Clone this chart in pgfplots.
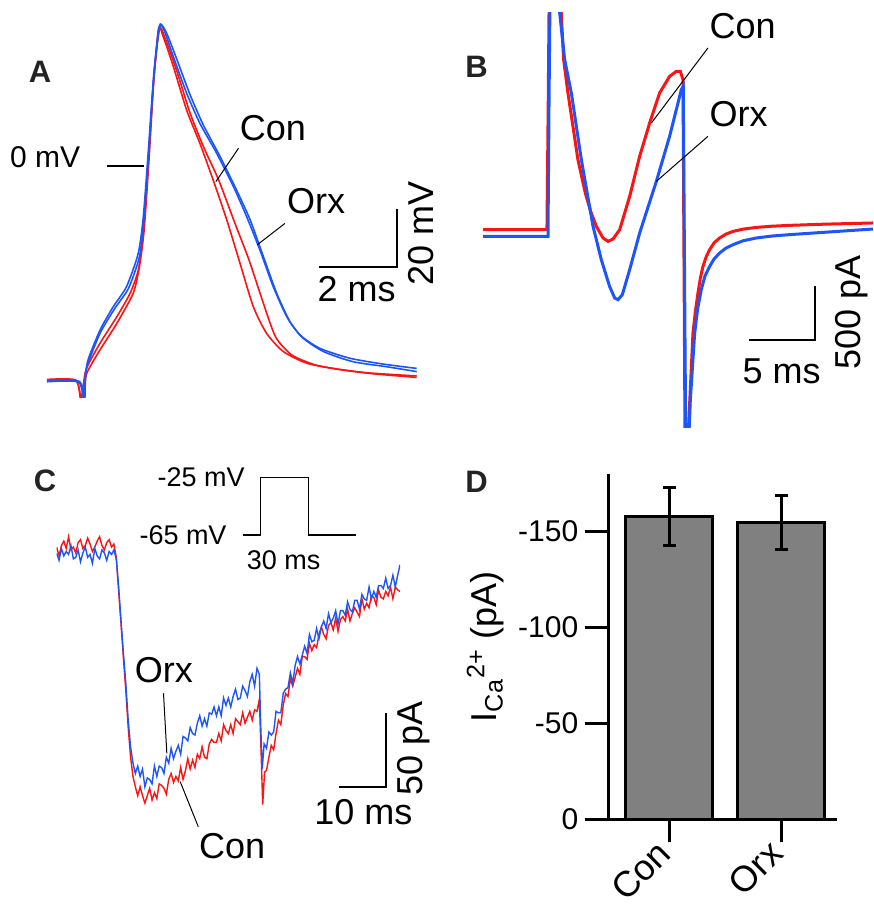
\documentclass[border=0pt]{standalone}
\usepackage{fontspec}
\setmainfont{Liberation Sans}
\usepackage{pgfplots}
\pgfplotsset{compat=1.18}

\definecolor{conred}{RGB}{250,20,20}
\definecolor{orxblue}{RGB}{30,85,250}
\definecolor{bargray}{RGB}{128,128,128}
\definecolor{lblgray}{RGB}{35,35,35}
\newcommand\txt{\fontsize{18}{21}\selectfont}
\newcommand\inset{\fontsize{13.5}{16}\selectfont}
\newcommand\pnl{\fontsize{15.5}{18}\selectfont\bfseries}

\pgfplotsset{
  trace/.style={hide axis, scale only axis, clip mode=individual, anchor=south west},
}
\tikzset{
  scalebar/.style={line width=1pt},
  leader/.style={line width=0.5pt},
}

\begin{document}
\begin{tikzpicture}
\useasboundingbox (0,0) rectangle (437pt,453.5pt);

% panel letters
\node[font=\pnl, text=lblgray] at (20pt,417.5pt) {A};
\node[font=\pnl, text=lblgray] at (238.3pt,420pt) {B};
\node[font=\pnl, text=lblgray] at (22.5pt,213.2pt) {C};
\node[font=\pnl, text=lblgray] at (238.3pt,212.6pt) {D};

% ---------- A: action potentials (ms, mV)
\begin{axis}[trace, at={(23.5pt,254.5pt)}, width=195pt, height=188.5pt,
  xmin=0, xmax=10, ymin=-80, ymax=50]
\addplot[conred, line width=0.8pt, smooth, tension=0.4] coordinates {
 (0,-73.8) (0.74,-74.0) (0.87,-80.5) (1.0,-70.3) (1.36,-61.1) (1.79,-52.0)
 (2.13,-43.9) (2.34,-35.9) (2.47,-23.2) (2.60,2.1) (2.73,28.5) (2.86,47.5)
 (2.98,44.6) (3.24,34.3) (3.58,19.3) (3.92,7.8) (4.26,-4.8) (4.61,-18.6)
 (4.95,-33.6) (5.29,-48.5) (5.63,-57.7) (6.06,-64.0) (6.66,-68.0) (7.34,-69.8)
 (8.20,-71.3) (9.48,-72.4)};
\addplot[conred, line width=0.8pt, smooth, tension=0.4] coordinates {
 (0,-73.6) (0.74,-73.8) (0.88,-80.2) (1.02,-71.5) (1.36,-63.4) (1.79,-54.3)
 (2.21,-43.9) (2.37,-34.7) (2.49,-22.1) (2.62,3.2) (2.74,29.7) (2.88,47.5)
 (3.03,44.0) (3.32,33.1) (3.67,18.2) (4.01,6.7) (4.40,-4.8) (4.82,-19.8)
 (5.18,-32.4) (5.52,-46.2) (5.86,-58.9) (6.28,-65.2) (6.88,-68.6) (7.55,-70.3)
 (8.40,-71.7) (9.48,-72.9)};
\addplot[orxblue, line width=0.8pt, smooth, tension=0.4] coordinates {
 (0,-74.4) (0.80,-74.4) (0.95,-80.1) (1.03,-68.0) (1.36,-56.6) (1.70,-48.5)
 (2.04,-41.6) (2.34,-30.1) (2.47,-17.5) (2.60,5.5) (2.74,32.0) (2.88,48.3)
 (3.00,46.9) (3.24,37.7) (3.58,25.1) (3.92,14.7) (4.35,4.4) (4.78,-7.1)
 (5.12,-17.5) (5.46,-29.0) (5.80,-41.6) (6.15,-52.0) (6.49,-58.3) (7.00,-62.9)
 (7.77,-66.3) (8.62,-68.3) (9.48,-69.8)};
\addplot[orxblue, line width=0.8pt, smooth, tension=0.4] coordinates {
 (0,-74.2) (0.82,-74.2) (0.97,-79.8) (1.0,-70.3) (1.36,-57.7) (1.74,-49.1)
 (2.09,-42.2) (2.37,-31.3) (2.49,-17.5) (2.62,6.7) (2.75,32.5) (2.90,48.3)
 (3.07,45.7) (3.32,37.1) (3.67,24.5) (4.01,14.1) (4.44,3.2) (4.86,-8.3)
 (5.21,-18.6) (5.55,-31.3) (5.89,-43.9) (6.23,-53.7) (6.57,-59.4) (7.09,-64.0)
 (7.85,-67.5) (8.70,-69.2) (9.48,-70.9)};
\draw[line width=1pt] (1.55,0) -- (2.49,0);
\node[font=\fontsize{15}{18}\selectfont] at (-0.05,3.2) {0 mV};
\draw[leader] (4.91,6.1) -- (4.33,-5.4);
\node[font=\txt] at (5.79,13.1) {Con};
\draw[leader] (6.10,-19.8) -- (5.39,-27.2);
\node[font=\txt] at (6.90,-12.1) {Orx};
\draw[scalebar] (6.98,-34.7) -- (8.98,-34.7) -- (8.98,-14.7);
\node[font=\txt] at (7.94,-42.5) {2 ms};
\node[font=\txt, rotate=90] at (9.58,-23.2) {20 mV};
\end{axis}

% ---------- B: action potential clamp currents (ms, pA)
\begin{axis}[trace, at={(241.5pt,239.5pt)}, width=195pt, height=207.5pt,
  xmin=0, xmax=29.7, ymin=-1805, ymax=2037]
\addplot[conred, line width=1.5pt] coordinates {
 (0,31) (4.87,31) (4.97,1234) (5.08,2777) (5.46,3395) (5.84,2469) (5.96,2037)
 (6.14,1605) (6.47,1296) (7.23,679) (7.79,370) (8.20,200) (8.63,62) (9.14,-46)
 (9.52,-77) (9.90,-56) (10.41,31) (11.17,339) (11.93,710) (12.69,1018)
 (13.45,1296) (14.21,1450) (14.72,1497) (15.03,1497) (15.23,1420) (15.38,-1805)
 (15.43,-2469) (15.69,-1697) (15.99,-926) (16.18,-720) (16.37,-555) (16.55,-420)
 (16.75,-309) (17.0,-220) (17.26,-154) (17.6,-90) (18.02,-46) (18.5,-10)
 (19.04,15) (19.8,36) (20.81,52) (22,63) (23.35,71) (26,82) (29.7,93)};
\addplot[orxblue, line width=1.5pt] coordinates {
 (0,-31) (4.95,-31) (5.03,1234) (5.15,2777) (5.46,3549) (5.71,2469) (5.84,2037)
 (6.22,1605) (6.73,1296) (7.49,679) (8.38,62) (9.01,-247) (9.64,-494)
 (10.03,-602) (10.28,-617) (10.61,-571) (11.17,-339) (11.93,0) (13.20,478)
 (14.21,895) (14.85,1204) (15.10,1327) (15.25,1358) (15.43,-1805) (15.48,-2469)
 (15.79,-1543) (16.12,-926) (16.35,-700) (16.62,-525) (16.9,-400) (17.26,-309)
 (17.6,-240) (18.02,-185) (18.5,-140) (19.04,-108) (19.8,-72) (20.81,-46)
 (22,-28) (23.35,-15) (25.89,6) (29.7,37)};
\draw[leader] (17.13,1713) -- (12.82,1018);
\node[font=\txt] at (19.77,1919) {Con};
\draw[leader] (17.13,895) -- (13.2,478);
\node[font=\txt] at (19.47,1105) {Orx};
\draw[scalebar] (20.25,-988) -- (25.25,-988) -- (25.25,-488);
\node[font=\txt] at (22.74,-1284) {5 ms};
\node[font=\txt, rotate=90] at (28.07,-738) {500 pA};
\end{axis}

% ---------- C: step-evoked calcium currents (ms, pA)
\begin{axis}[trace, at={(28.33pt,45.3pt)}, width=171.7pt, height=177.6pt,
  xmin=0, xmax=72, ymin=-180, ymax=60]
\addplot[conred, line width=0.7pt] table {
t I
0 2
0.5 -4
1 3
1.5 6
2 1
2.5 9
3 0
3.5 2
4 -2
4.5 5
5 7
5.5 1
6 3
6.5 8
7 4
7.5 -1
8 2
8.5 6
9 9
9.5 3
10 0
10.5 5
11 7
11.5 2
12 4
12.5 -5
13 -28
13.5 -50
14 -73
14.5 -95
15 -120
15.5 -140
16 -153
16.5 -160
17 -166
17.5 -160
18 -166
18.5 -171
19 -166
19.5 -161
20 -169
20.5 -164
21 -168
21.5 -158
22 -159
22.5 -161
23 -165
23.5 -155
24 -151
24.5 -157
25 -153
25.5 -156
26 -147
26.5 -155
27 -149
27.5 -141
28 -148
28.5 -142
29 -147
29.5 -138
30 -141
30.5 -133
31 -140
31.5 -141
32 -131
32.5 -128
33 -130
33.5 -130
34 -124
34.5 -129
35 -118
35.5 -122
36 -124
36.5 -118
37 -124
37.5 -114
38 -116
38.5 -118
39 -110
39.5 -117
40 -113
40.5 -109
41 -115
41.5 -108
42 -109
42.5 -101
42.9 -140
43.2 -172
43.6 -150
44 -149
44.5 -140
45 -132
45.5 -135
46 -124
46.5 -115
47 -118
47.5 -105
48 -97
48.5 -99
49 -87
49.5 -92
50 -86
50.5 -80
51 -84
51.5 -72
52 -72
52.5 -74
53 -63
53.5 -68
54 -64
54.5 -66
55 -57
55.5 -52
56 -57
56.5 -60
57 -51
57.5 -49
58 -54
58.5 -46
59 -55
59.5 -47
60 -45
60.5 -48
61 -40
61.5 -48
62 -43
62.5 -39
63 -42
63.5 -45
64 -33
64.5 -40
65 -36
65.5 -39
66 -31
66.5 -32
67 -37
67.5 -27
68 -32
68.5 -33
69 -28
69.5 -31
70 -25
70.5 -33
71 -25
71.5 -27
72 -28
};
\addplot[orxblue, line width=0.7pt] table {
t I
0 -2
0.5 -7
1 1
1.5 -4
2 -1
2.5 -3
3 3
3.5 -6
4 -5
4.5 0
5 -8
5.5 -2
6 2
6.5 -5
7 -3
7.5 -9
8 1
8.5 -4
9 -6
9.5 0
10 -2
10.5 -7
11 -1
11.5 -3
12 0
12.5 -6
13 -25
13.5 -48
14 -70
14.5 -90
15 -115
15.5 -133
16 -144
16.5 -151
17 -146
17.5 -153
18 -148
18.5 -160
19 -154
19.5 -155
20 -158
20.5 -146
21 -153
21.5 -146
22 -147
22.5 -151
23 -140
23.5 -144
24 -134
24.5 -141
25 -136
25.5 -132
26 -138
26.5 -126
27 -127
27.5 -129
28 -120
28.5 -124
29 -125
29.5 -117
30 -112
30.5 -119
31 -114
31.5 -119
32 -110
32.5 -111
33 -106
33.5 -112
34 -106
34.5 -112
35 -100
35.5 -105
36 -100
36.5 -106
37 -99
37.5 -94
38 -101
38.5 -100
39 -92
39.5 -95
40 -99
40.5 -89
41 -84
41.5 -92
42 -80
42.5 -84
42.8 -120
43.1 -148
43.5 -131
44 -134
44.5 -123
45 -125
45.5 -123
46 -109
46.5 -110
47 -110
47.5 -97
48 -94
48.5 -93
49 -83
49.5 -90
50 -78
50.5 -72
51 -77
51.5 -71
52 -65
52.5 -70
53 -57
53.5 -62
54 -61
54.5 -53
55 -60
55.5 -52
56 -48
56.5 -53
57 -43
57.5 -49
58 -46
58.5 -41
59 -50
59.5 -41
60 -41
60.5 -44
61 -35
61.5 -40
62 -42
62.5 -34
63 -34
63.5 -40
64 -30
64.5 -33
65 -34
65.5 -25
66 -33
66.5 -28
67 -32
67.5 -24
68 -24
68.5 -26
69 -19
69.5 -26
70 -24
70.5 -17
71 -25
71.5 -17
72 -10
};
% voltage protocol
\addplot[black, line width=0.6pt] coordinates {
 (39.0,10.1) (42.7,10.1) (42.7,49.1) (52.8,49.1) (52.8,10.1) (62.8,10.1)};
\node[font=\inset, anchor=east] at (40.9,49.5) {-25 mV};
\node[font=\inset, anchor=east] at (37.1,10.1) {-65 mV};
\node[font=\inset] at (47.6,-6.8) {30 ms};
\draw[leader] (22.4,-96.8) -- (23.1,-137.4);
\node[font=\txt] at (22.5,-81) {Orx};
\draw[leader] (29.7,-187) -- (25.9,-156.5);
\node[font=\txt] at (36.8,-200) {Con};
\draw[scalebar] (59.1,-160.4) -- (69.1,-160.4) -- (69.1,-110.4);
\node[font=\txt] at (64.3,-176.8) {10 ms};
\node[font=\txt, rotate=90] at (74.8,-134) {50 pA};
\end{axis}

% ---------- D: mean peak calcium current
\begin{axis}[at={(304.15pt,43.85pt)}, anchor=south west, scale only axis,
  width=114.35pt, height=172.65pt,
  xmin=-0.546, xmax=1.501, ymin=-180, ymax=0, y dir=reverse,
  axis x line=bottom, axis y line=left,
  axis line style={-, line width=1.5pt},
  tick align=outside, major tick length=11.5pt,
  tick style={line width=1.5pt, black},
  xtick={0,1}, xticklabels={Con,Orx},
  xticklabel style={rotate=45, anchor=east, font=\txt},
  ytick={-150,-100,-50,0}, yticklabels={-150,-100,-50,0},
  yticklabel style={font=\fontsize{15}{18}\selectfont},
  ylabel={I\textsubscript{Ca}\textsuperscript{2+} (pA)},
  ylabel style={font=\txt},
  clip=false]
\addplot[ybar, bar width=0.776, fill=bargray, draw=black, line width=1.5pt,
  error bars/.cd, y dir=both, y explicit,
  error bar style={line width=1.5pt},
  error mark options={rotate=90, mark size=3.25pt, line width=1.5pt}]
  coordinates {(0,-157.8) +- (0,15) (1,-154.7) +- (0,14)};
\end{axis}
\end{tikzpicture}
\end{document}
